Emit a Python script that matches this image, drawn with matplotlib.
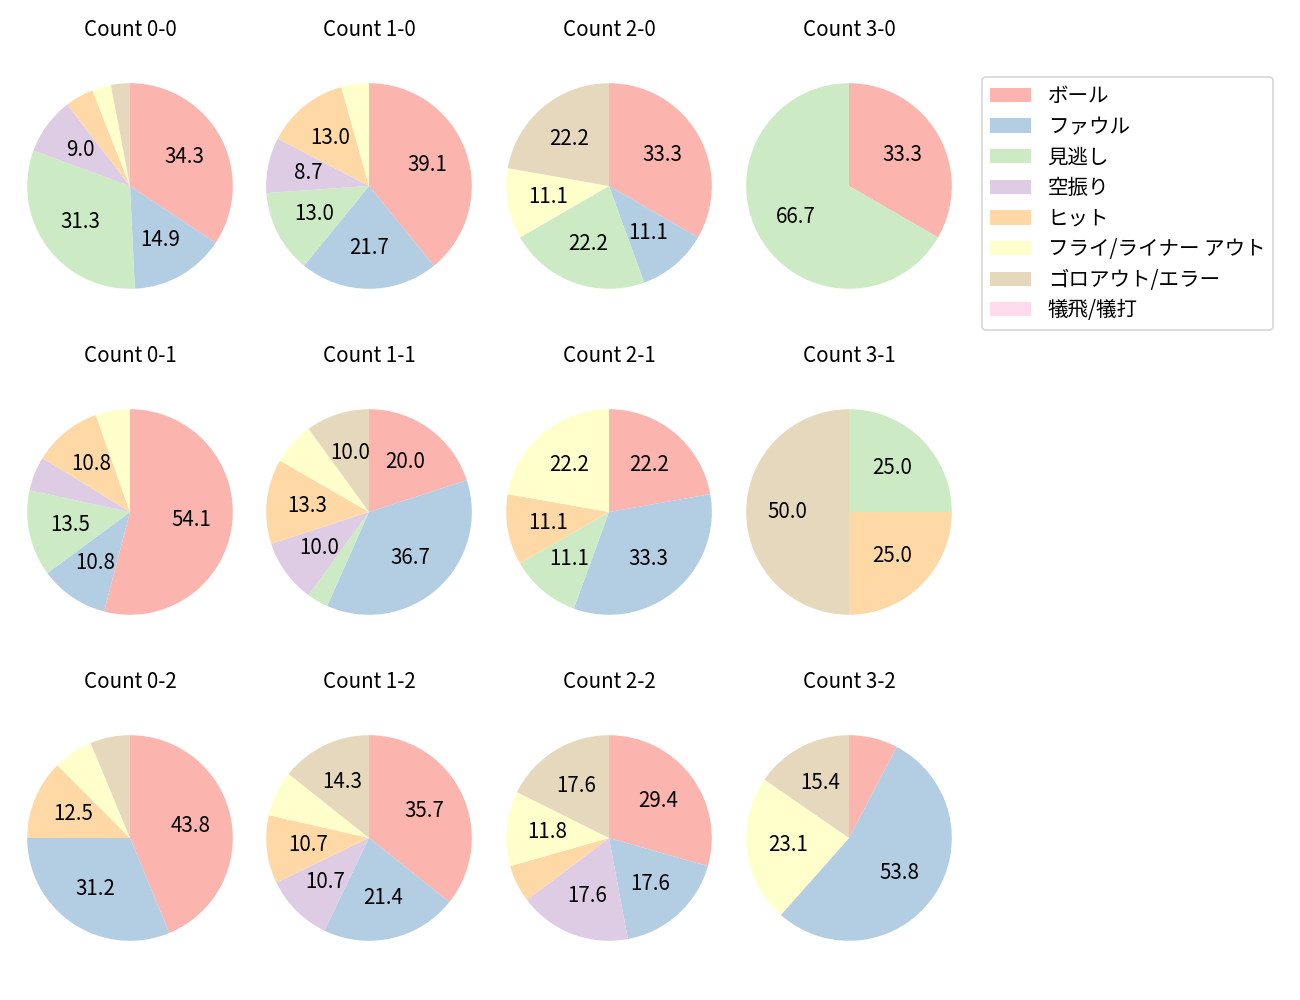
import matplotlib.pyplot as plt
from matplotlib.patches import Patch

plt.rcParams['font.family'] = ['Noto Sans CJK JP', 'DejaVu Sans']
plt.rcParams['font.size'] = 12

labels = ['ボール', 'ファウル', '見逃し', '空振り', 'ヒット',
          'フライ/ライナー アウト', 'ゴロアウト/エラー', '犠飛/犠打']
colors = ['#fbb4ae', '#b3cde3', '#ccebc5', '#decbe4', '#fed9a6',
          '#ffffcc', '#e5d8bd', '#fddaec']

# pitch result counts per ball-strike count
c00 = [23, 10, 21, 6, 3, 2, 2, 0]
c10 = [9, 5, 3, 2, 3, 1, 0, 0]
c20 = [3, 1, 2, 0, 0, 1, 2, 0]
c30 = [1, 0, 2, 0, 0, 0, 0, 0]
c01 = [20, 4, 5, 2, 4, 2, 0, 0]
c11 = [6, 11, 1, 3, 4, 2, 3, 0]
c21 = [2, 3, 1, 0, 1, 2, 0, 0]
c31 = [0, 0, 1, 0, 1, 0, 2, 0]
c02 = [7, 5, 0, 0, 2, 1, 1, 0]
c12 = [10, 6, 0, 3, 3, 2, 4, 0]
c22 = [5, 3, 0, 3, 1, 2, 3, 0]
c32 = [1, 7, 0, 0, 0, 3, 2, 0]

grid = [
    [('Count 0-0', c00), ('Count 1-0', c10), ('Count 2-0', c20), ('Count 3-0', c30)],
    [('Count 0-1', c01), ('Count 1-1', c11), ('Count 2-1', c21), ('Count 3-1', c31)],
    [('Count 0-2', c02), ('Count 1-2', c12), ('Count 2-2', c22), ('Count 3-2', c32)],
]

W, H = 1300, 1000
fig = plt.figure(figsize=(W / 120, H / 120), dpi=120)

xc = [130, 369, 609, 849]
yc = [186, 512, 838]
size = 257

for r, row in enumerate(grid):
    for c, (title, vals) in enumerate(row):
        ax = fig.add_axes([(xc[c] - size / 2) / W, 1 - (yc[r] + size / 2) / H,
                           size / W, size / H])
        ax.pie(vals, colors=colors, startangle=90, counterclock=False,
               autopct=lambda p: f'{p:.1f}' if p >= 8 else '',
               pctdistance=0.6, textprops={'fontsize': 12.3})
        ax.set_title(title, fontsize=12.3, pad=13)

handles = [Patch(facecolor=col, label=lab) for col, lab in zip(colors, labels)]
fig.legend(handles=handles, loc='upper left', borderaxespad=0, labelspacing=0.42,
           bbox_to_anchor=(982 / W, 1 - 77 / H), fontsize=12.3)

fig.savefig('out.png', dpi=120)
